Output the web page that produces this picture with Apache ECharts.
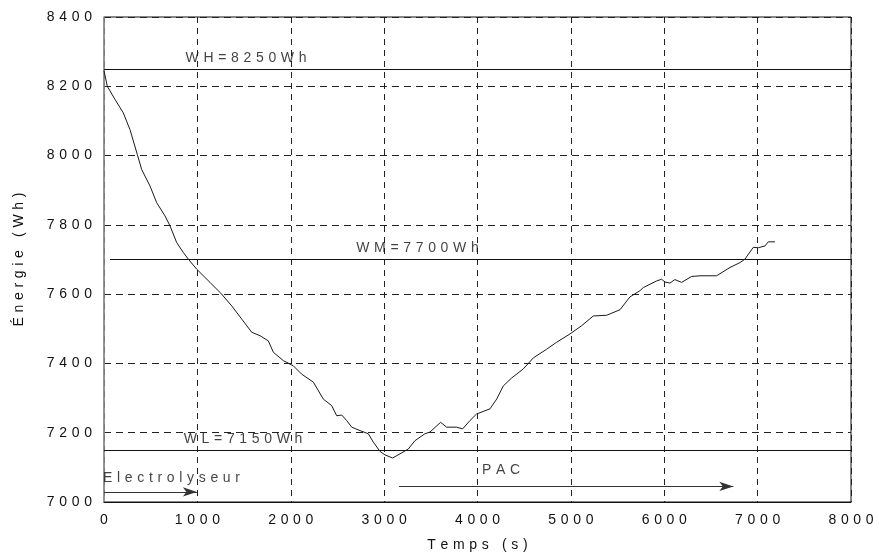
<!DOCTYPE html>
<html>
<head>
<meta charset="utf-8">
<script src="https://cdn.jsdelivr.net/npm/echarts@6/dist/echarts.min.js"></script>
<style>
  html, body { margin: 0; padding: 0; background: #fff; }
  #chart { width: 879px; height: 557px; }
</style>
</head>
<body>
<div id="chart"></div>
<script>
// Stored energy over time (s, Wh)
const timeS = [0, 35, 118, 207, 278, 357, 403, 493, 564, 653, 707, 778, 850, 903, 993,
  1135, 1260, 1368, 1475, 1582, 1671, 1760, 1814, 1921, 2028, 2117, 2242, 2349, 2439,
  2492, 2546, 2599, 2653, 2742, 2831, 2884, 2956, 3009, 3091, 3170, 3259, 3330, 3437,
  3491, 3605, 3669, 3776, 3841, 3919, 3990, 4134, 4205, 4276, 4366, 4490, 4598, 4740,
  4847, 4990, 5116, 5240, 5383, 5526, 5633, 5740, 5776, 5918, 5972, 6007, 6061, 6114,
  6186, 6293, 6383, 6561, 6704, 6811, 6864, 6953, 7007, 7078, 7114, 7185];
const energyWh = [8245, 8200, 8162, 8123, 8075, 8003, 7960, 7912, 7864, 7826, 7797, 7749, 7720, 7701, 7672,
  7634, 7600, 7566, 7528, 7490, 7480, 7465, 7432, 7408, 7393, 7369, 7346, 7297, 7278,
  7249, 7251, 7235, 7216, 7206, 7197, 7173, 7146, 7136, 7127, 7139, 7153, 7177, 7197,
  7202, 7230, 7216, 7216, 7211, 7235, 7254, 7269, 7297, 7335, 7358, 7384, 7416, 7441,
  7461, 7485, 7509, 7537, 7539, 7555, 7592, 7610, 7619, 7638, 7643, 7635, 7632, 7642,
  7634, 7651, 7653, 7653, 7677, 7691, 7701, 7735, 7734, 7739, 7751, 7751];

// Energy thresholds: high, medium, low
const thresholdNames = ['WH', 'WM', 'WL'];
const thresholdValues = [8250, 7700, 7150];
const thresholdStart = [0, 64, 0];

// Text anchors for the threshold captions (time, energy)
const captionTime = [1521, 3357, 1489];
const captionEnergy = [8280, 7732, 7182];

// Operating phases: name, start/end time of the arrow, arrow level, caption anchor
const phaseNames = ['Electrolyseur', 'PAC'];
const phaseStart = [0, 3160];
const phaseEnd = [995, 6740];
const phaseLevel = [7029, 7045];
const phaseCaptionTime = [723, 4251];
const phaseCaptionEnergy = [7069, 7091];

const FONT = '"Liberation Sans", Arial, sans-serif';
// Wide tracking between characters, as in the printed figure
const spaced = s => String(s).split('').join('\u2004');

const curve = timeS.map((t, i) => [t, energyWh[i]]);

const thresholdLines = thresholdValues.map((v, i) => [
  { coord: [thresholdStart[i], v] },
  { coord: [8000, v] }
]);
const phaseArrows = phaseNames.map((n, i) => [
  { coord: [phaseStart[i], phaseLevel[i]] },
  { coord: [phaseEnd[i], phaseLevel[i]] }
]);

const captions = thresholdNames.map((n, i) => ({
  value: [captionTime[i], captionEnergy[i]],
  name: spaced(n + '=' + thresholdValues[i] + 'Wh')
})).concat(phaseNames.map((n, i) => ({
  value: [phaseCaptionTime[i], phaseCaptionEnergy[i]],
  name: spaced(n)
})));

const chart = echarts.init(document.getElementById('chart'), null, { renderer: 'canvas' });
chart.setOption({
  animation: false,
  backgroundColor: '#fff',
  grid: {
    left: 104, right: 28, top: 17, bottom: 54,
    show: true, borderColor: '#111', borderWidth: 1
  },
  xAxis: {
    type: 'value', min: 0, max: 8000, interval: 1000,
    name: spaced('Temps (s)'), nameLocation: 'middle', nameGap: 36,
    nameTextStyle: { fontFamily: FONT, fontSize: 14, color: '#111' },
    axisLine: { show: true, lineStyle: { color: '#111', width: 1 } },
    axisTick: { show: false },
    axisLabel: { fontFamily: FONT, fontSize: 14, color: '#111', margin: 11, formatter: v => spaced(v) },
    splitLine: { show: true, lineStyle: { color: '#222', type: [6, 5], width: 1 } }
  },
  yAxis: {
    type: 'value', min: 7000, max: 8400, interval: 200,
    name: spaced('Énergie (Wh)'), nameLocation: 'middle', nameGap: 78, nameRotate: 90,
    nameTextStyle: { fontFamily: FONT, fontSize: 14, color: '#111' },
    axisLine: { show: true, lineStyle: { color: '#999', width: 1.5 } },
    axisTick: { show: false },
    axisLabel: { fontFamily: FONT, fontSize: 14, color: '#111', margin: 12, formatter: v => spaced(v) },
    splitLine: { show: true, lineStyle: { color: '#222', type: [7, 5], width: 1 } }
  },
  series: [
    {
      type: 'line',
      data: curve,
      symbol: 'none',
      lineStyle: { color: '#1a1a1a', width: 1 },
      z: 5,
      markLine: {
        silent: true,
        symbol: ['none', 'none'],
        label: { show: false },
        lineStyle: { color: '#111', type: 'solid', width: 1.2 },
        data: thresholdLines
      }
    },
    {
      type: 'line',
      data: [],
      markLine: {
        silent: true,
        symbol: ['none', 'arrow'],
        symbolSize: [7, 14],
        label: { show: false },
        lineStyle: { color: '#333', type: 'solid', width: 1.2 },
        data: phaseArrows
      }
    },
    {
      type: 'scatter',
      data: captions,
      symbolSize: 0,
      silent: true,
      z: 6,
      label: {
        show: true,
        position: 'inside',
        formatter: p => p.name,
        fontFamily: FONT,
        fontSize: 14,
        color: '#111'
      }
    }
  ]
});
</script>
</body>
</html>
